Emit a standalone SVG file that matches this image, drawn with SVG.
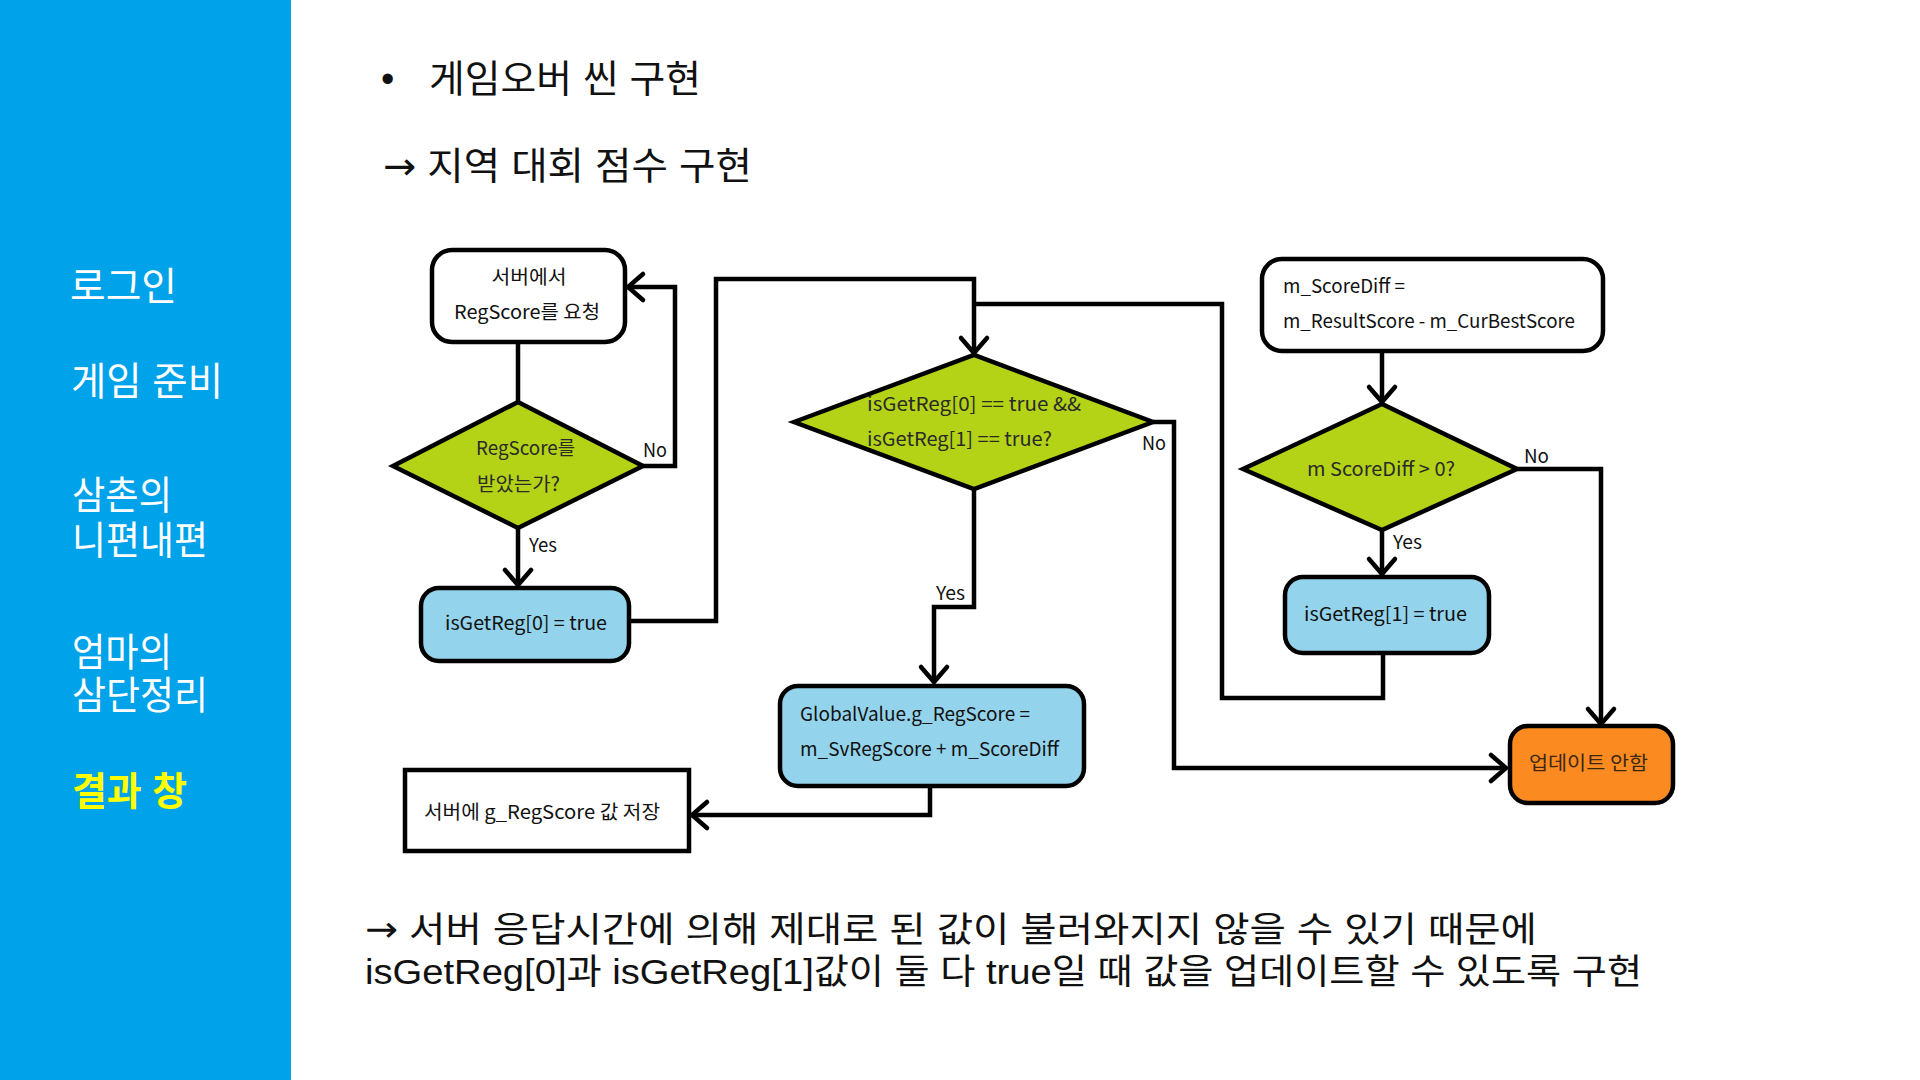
<svg xmlns="http://www.w3.org/2000/svg" width="1920" height="1080" viewBox="0 0 1920 1080">
<defs>
<style>
.menu{font-family:"Liberation Sans","Noto Sans CJK KR",sans-serif;font-size:39px;fill:#ffffff;dominant-baseline:central}
.sel{fill:#ffff00;font-weight:bold}
.big{font-family:"Liberation Sans","Noto Sans CJK KR",sans-serif;font-size:38px;fill:#111111;dominant-baseline:central}
.body{font-size:35px}
.arw{font-family:"DejaVu Sans",sans-serif}
.lbl{font-family:"Noto Sans CJK KR","Noto Sans",sans-serif;font-size:19px;fill:#111111;dominant-baseline:central}
.dtx{fill:#2a2a2a}
.otx{fill:#3a2814}
.mid{text-anchor:middle}
.box{stroke:#000000;stroke-width:4.5}
.white{fill:#ffffff}
.blue{fill:#93d3eb}
.green{fill:#b4d316;stroke-linejoin:miter}
.orange{fill:#fb8a21}
.conn{fill:none;stroke:#000000;stroke-width:4.5;stroke-linejoin:miter}
</style>
<marker id="arr" markerUnits="userSpaceOnUse" markerWidth="40" markerHeight="40" viewBox="-20 -20 40 40" refX="0" refY="0" orient="auto" overflow="visible">
<path d="M-15,-13 L0,0 L-15,13" fill="none" stroke="#000000" stroke-width="4.5" stroke-linecap="round" stroke-linejoin="miter"/>
</marker>
</defs>
<rect x="0" y="0" width="1920" height="1080" fill="#ffffff"/>
<g id="sidebar">
<rect x="0" y="0" width="291" height="1080" fill="#00a2ea"/>
<text class="menu" x="70" y="286" textLength="107" lengthAdjust="spacingAndGlyphs">로그인</text>
<text class="menu" x="71" y="381" textLength="152" lengthAdjust="spacingAndGlyphs">게임 준비</text>
<text class="menu" x="72" y="495" textLength="100" lengthAdjust="spacingAndGlyphs">삼촌의</text>
<text class="menu" x="72" y="540" textLength="136" lengthAdjust="spacingAndGlyphs">니편내편</text>
<text class="menu" x="72" y="652" textLength="100" lengthAdjust="spacingAndGlyphs">엄마의</text>
<text class="menu" x="72" y="695" textLength="136" lengthAdjust="spacingAndGlyphs">삼단정리</text>
<text class="menu sel" x="72" y="791" textLength="115" lengthAdjust="spacingAndGlyphs">결과 창</text>
</g>
<g id="headings">
<text class="big" x="381" y="79">•</text>
<text class="big" x="429" y="79" textLength="272" lengthAdjust="spacingAndGlyphs">게임오버 씬 구현</text>
<text class="big" x="383" y="166" textLength="369" lengthAdjust="spacingAndGlyphs"><tspan class="arw">→</tspan> 지역 대회 점수 구현</text>
</g>
<g id="connectors">
<path class="conn" d="M518,342 V402"/>
<path class="conn" d="M643,466 H675 V287 H628" marker-end="url(#arr)"/>
<path class="conn" d="M518,528 V585" marker-end="url(#arr)"/>
<path class="conn" d="M629,621 H716 V279 H974 V353" marker-end="url(#arr)"/>
<path class="conn" d="M1383,653 V698 H1222 V304 H974"/>
<path class="conn" d="M1153,422 H1174 V768 H1506" marker-end="url(#arr)"/>
<path class="conn" d="M974,489 V607 H934 V682" marker-end="url(#arr)"/>
<path class="conn" d="M1382,351 V402" marker-end="url(#arr)"/>
<path class="conn" d="M1517,469 H1601 V724" marker-end="url(#arr)"/>
<path class="conn" d="M1382,530 V574" marker-end="url(#arr)"/>
<path class="conn" d="M930,786 V815 H692" marker-end="url(#arr)"/>
<text class="lbl" x="643" y="448" textLength="24" lengthAdjust="spacingAndGlyphs">No</text>
<text class="lbl" x="529" y="543" textLength="28" lengthAdjust="spacingAndGlyphs">Yes</text>
<text class="lbl" x="1142" y="441" textLength="24" lengthAdjust="spacingAndGlyphs">No</text>
<text class="lbl" x="936" y="591" textLength="29" lengthAdjust="spacingAndGlyphs">Yes</text>
<text class="lbl" x="1524" y="454" textLength="25" lengthAdjust="spacingAndGlyphs">No</text>
<text class="lbl" x="1393" y="540" textLength="29" lengthAdjust="spacingAndGlyphs">Yes</text>
</g>
<g id="node-request">
<rect class="box white" x="432" y="250" width="193" height="92" rx="20"/>
<text class="lbl mid" x="529" y="275" textLength="75" lengthAdjust="spacingAndGlyphs">서버에서</text>
<text class="lbl mid" x="527" y="310" textLength="146" lengthAdjust="spacingAndGlyphs">RegScore를 요청</text>
</g>
<g id="node-received">
<polygon class="box green" points="393,466 518,402 643,466 518,528"/>
<text class="lbl dtx" x="476" y="446" textLength="99" lengthAdjust="spacingAndGlyphs">RegScore를</text>
<text class="lbl dtx" x="477" y="482" textLength="83" lengthAdjust="spacingAndGlyphs">받았는가?</text>
</g>
<g id="node-reg0">
<rect class="box blue" x="421" y="588" width="208" height="73" rx="18"/>
<text class="lbl" x="445" y="621" textLength="162" lengthAdjust="spacingAndGlyphs">isGetReg[0] = true</text>
</g>
<g id="node-both">
<polygon class="box green" points="794,422 974,355 1153,422 974,489"/>
<text class="lbl dtx" x="867" y="402" textLength="214" lengthAdjust="spacingAndGlyphs">isGetReg[0] == true &amp;&amp;</text>
<text class="lbl dtx" x="867" y="437" textLength="185" lengthAdjust="spacingAndGlyphs">isGetReg[1] == true?</text>
</g>
<g id="node-global">
<rect class="box blue" x="780" y="686" width="304" height="100" rx="18"/>
<text class="lbl" x="800" y="712" textLength="230" lengthAdjust="spacingAndGlyphs">GlobalValue.g_RegScore =</text>
<text class="lbl" x="800" y="747" textLength="259" lengthAdjust="spacingAndGlyphs">m_SvRegScore + m_ScoreDiff</text>
</g>
<g id="node-save">
<rect class="box white" x="405" y="770" width="284" height="81"/>
<text class="lbl" x="424" y="810" textLength="236" lengthAdjust="spacingAndGlyphs">서버에 g_RegScore 값 저장</text>
</g>
<g id="node-diff">
<rect class="box white" x="1262" y="259" width="341" height="92" rx="20"/>
<text class="lbl" x="1283" y="284" textLength="122" lengthAdjust="spacingAndGlyphs">m_ScoreDiff =</text>
<text class="lbl" x="1283" y="319" textLength="292" lengthAdjust="spacingAndGlyphs">m_ResultScore - m_CurBestScore</text>
</g>
<g id="node-positive">
<polygon class="box green" points="1243,469 1382,404 1517,469 1382,530"/>
<text class="lbl dtx" x="1307" y="467" textLength="148" lengthAdjust="spacingAndGlyphs">m ScoreDiff &gt; 0?</text>
</g>
<g id="node-reg1">
<rect class="box blue" x="1285" y="577" width="204" height="76" rx="18"/>
<text class="lbl" x="1304" y="612" textLength="163" lengthAdjust="spacingAndGlyphs">isGetReg[1] = true</text>
</g>
<g id="node-noupdate">
<rect class="box orange" x="1510" y="726" width="163" height="77" rx="18"/>
<text class="lbl otx" x="1529" y="761" textLength="119" lengthAdjust="spacingAndGlyphs">업데이트 안함</text>
</g>
<g id="footer">
<text class="big body" x="365" y="929" textLength="1172" lengthAdjust="spacingAndGlyphs"><tspan class="arw">→</tspan> 서버 응답시간에 의해 제대로 된 값이 불러와지지 않을 수 있기 때문에</text>
<text class="big body" x="365" y="971" textLength="1277" lengthAdjust="spacingAndGlyphs">isGetReg[0]과 isGetReg[1]값이 둘 다 true일 때 값을 업데이트할 수 있도록 구현</text>
</g>
</svg>
